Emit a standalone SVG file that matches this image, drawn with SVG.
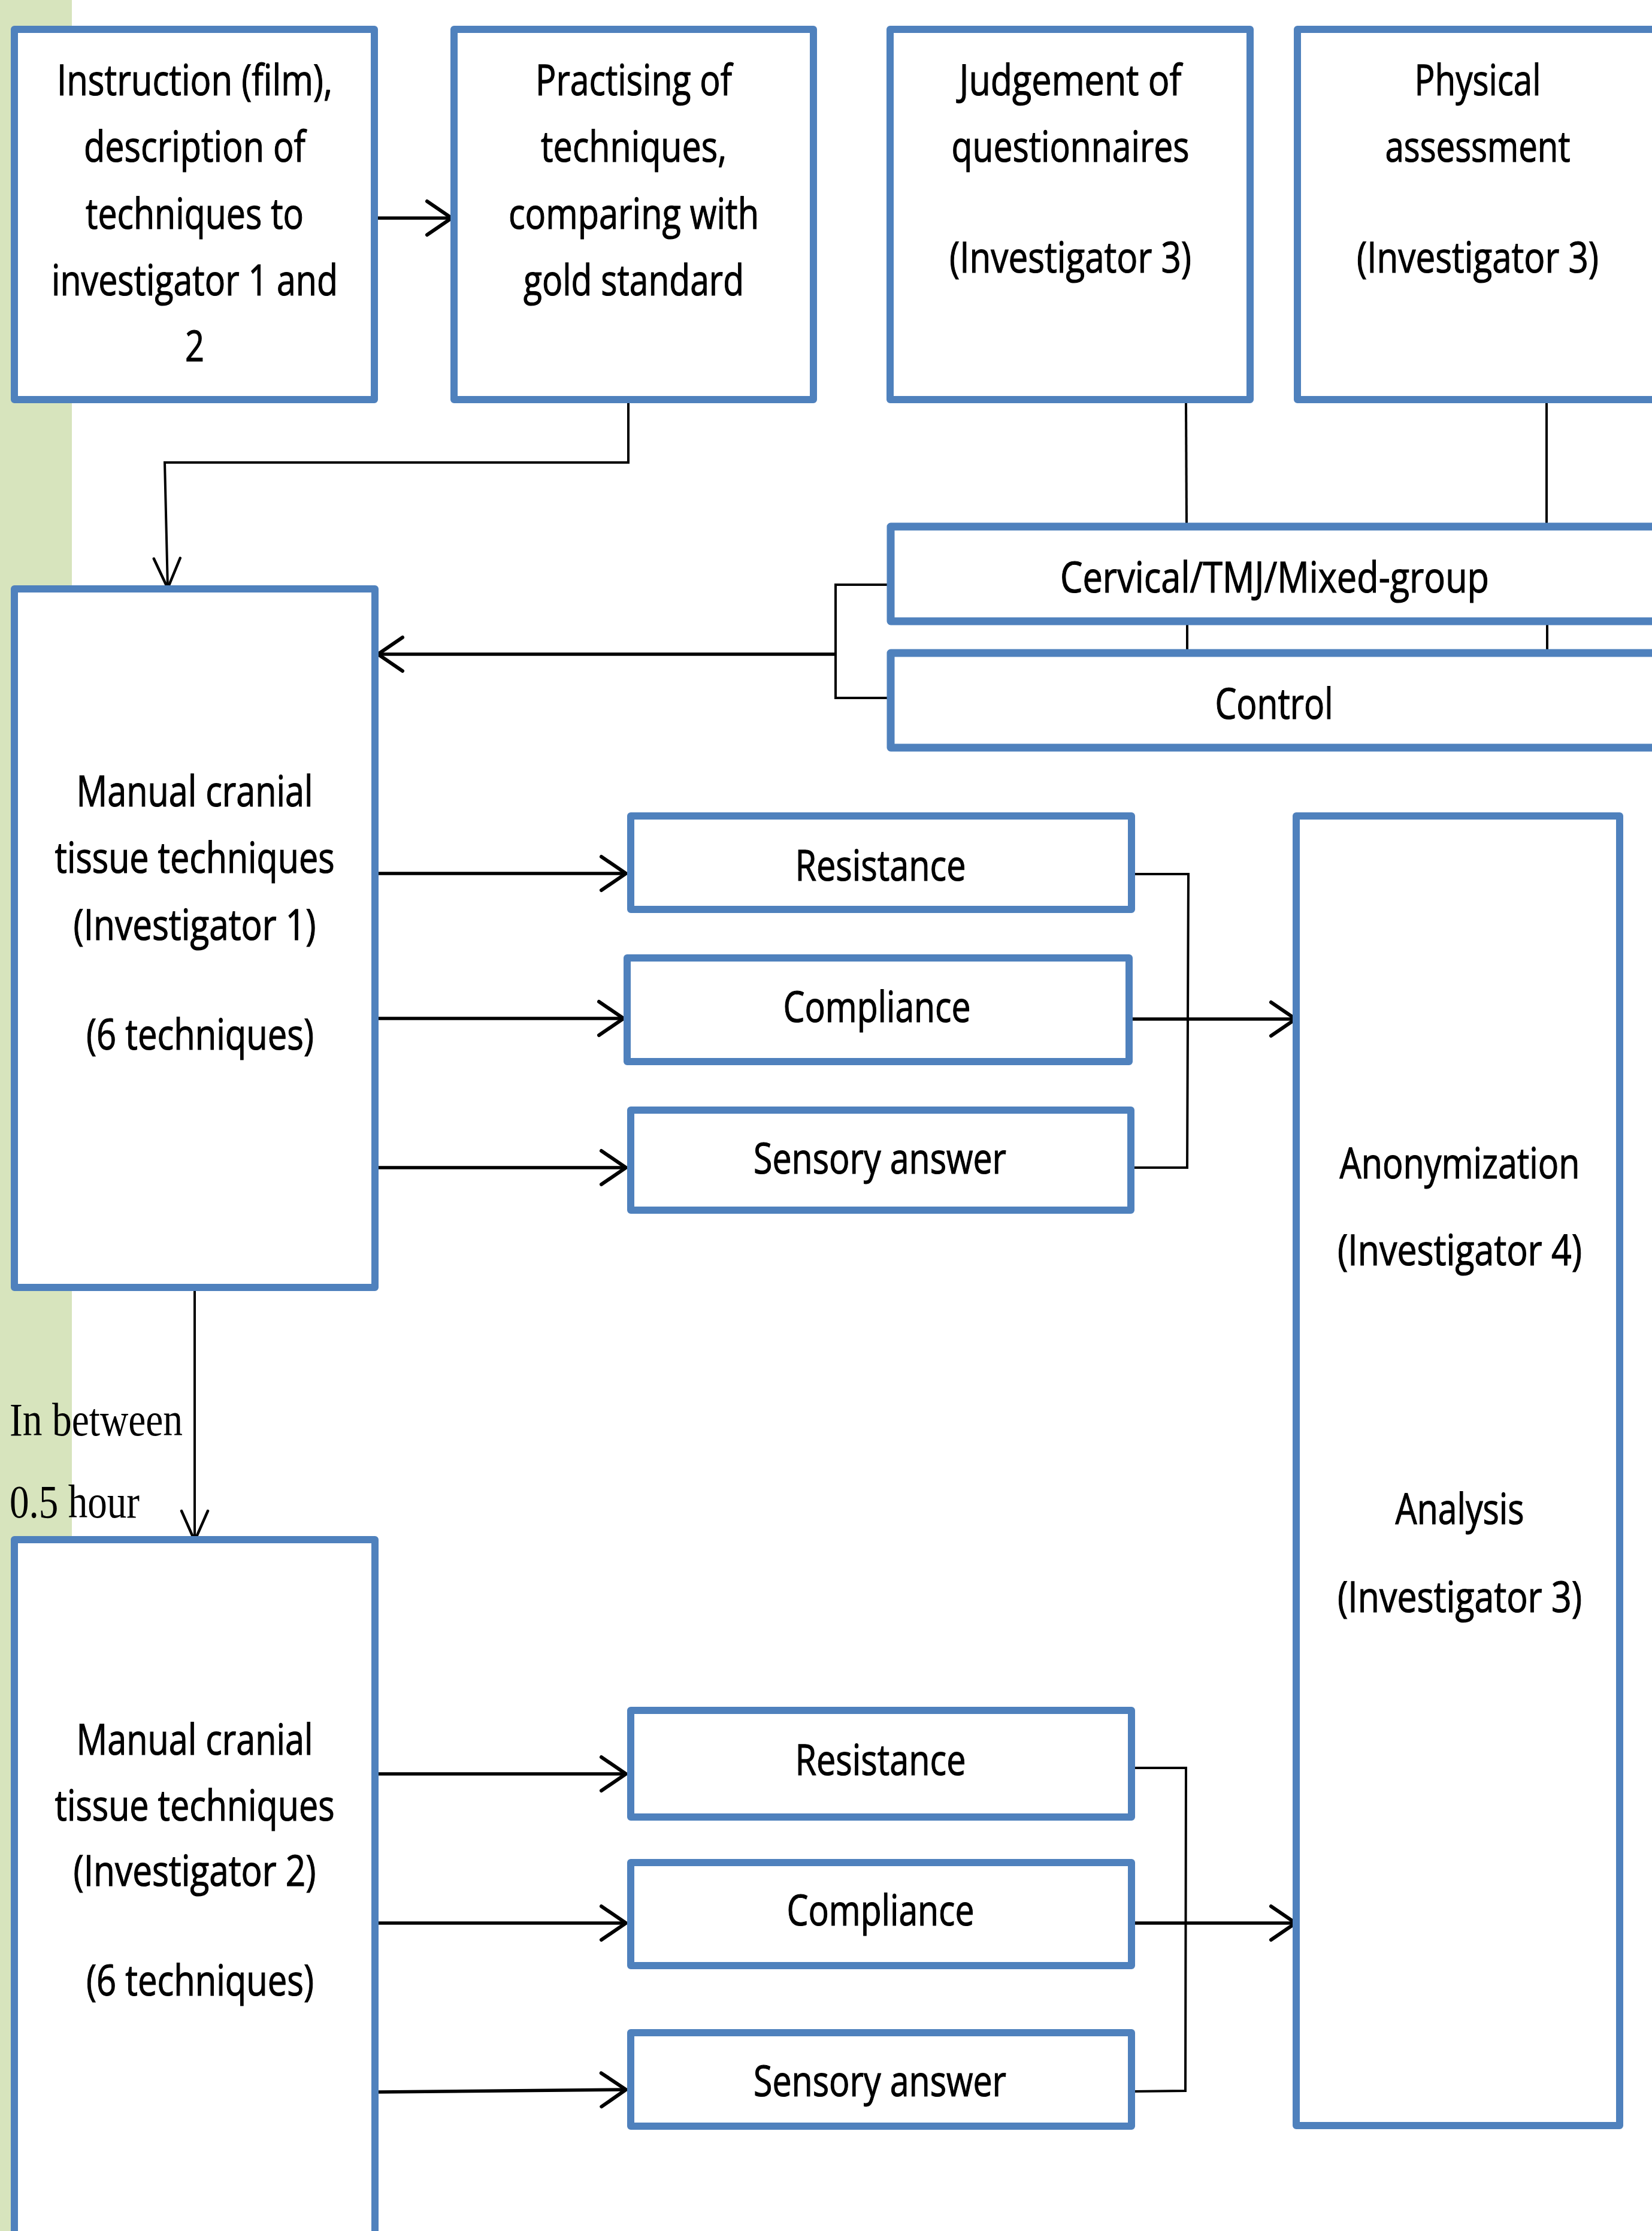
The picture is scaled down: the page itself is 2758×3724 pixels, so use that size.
<svg xmlns="http://www.w3.org/2000/svg" width="2758" height="3724" viewBox="0 0 2758 3724">
<style>
.box{fill:#fff;stroke:#4F81BD;stroke-width:12;stroke-linejoin:round}
.t{font-family:"Open Sans","Liberation Sans",sans-serif;font-size:72px;fill:#000;stroke:#000;stroke-width:1.2;text-anchor:middle}
.s{font-family:"Liberation Serif","Times New Roman",serif;font-size:79px;fill:#000}
.thick{fill:none;stroke:#000;stroke-width:5.5}
.thin{fill:none;stroke:#000;stroke-width:4}
</style>
<defs>
<marker id="arr" markerUnits="userSpaceOnUse" viewBox="-46 -34 52 68" markerWidth="52" markerHeight="68" refX="0" refY="0" orient="auto" overflow="visible">
<path d="M-41,-28 L0,0 L-41,28" fill="none" stroke="#000" stroke-width="6" stroke-linecap="round" stroke-linejoin="miter"/>
</marker>
<marker id="arrThin" markerUnits="userSpaceOnUse" viewBox="-56 -28 62 56" markerWidth="62" markerHeight="56" refX="0" refY="0" orient="auto" overflow="visible">
<path d="M-50,-22 L0,0 L-50,22" fill="none" stroke="#000" stroke-width="4.5" stroke-linecap="round"/>
</marker>
</defs>
<rect id="background" x="0" y="0" width="2758" height="3724" fill="#fff"/>
<rect id="greenbar" x="0" y="0" width="120" height="3724" fill="#D7E4BD"/>

<g id="connectors">
<line class="thick" x1="631" y1="364" x2="754" y2="364" marker-end="url(#arr)"/>
<polyline class="thin" points="1049,673 1049,772 275,772 280,982" marker-end="url(#arrThin)"/>
<line class="thin" x1="1980" y1="673" x2="1981" y2="873"/>
<line class="thin" x1="1982" y1="1043" x2="1982" y2="1084"/>
<line class="thin" x1="2582" y1="673" x2="2582" y2="873"/>
<line class="thin" x1="2583" y1="1043" x2="2583" y2="1084"/>
<polyline class="thin" points="1483,976 1395,976 1395,1165 1483,1165"/>
<line class="thick" x1="1395" y1="1092" x2="631" y2="1092" marker-end="url(#arr)"/>
<line class="thick" x1="632" y1="1458" x2="1045" y2="1458" marker-end="url(#arr)"/>
<line class="thick" x1="632" y1="1700" x2="1041" y2="1700" marker-end="url(#arr)"/>
<line class="thick" x1="632" y1="1949" x2="1045" y2="1949" marker-end="url(#arr)"/>
<polyline class="thin" points="1892,1459 1984,1459 1982,1949 1892,1949"/>
<line class="thick" x1="1891" y1="1701" x2="2163" y2="1701" marker-end="url(#arr)"/>
<line class="thin" x1="325" y1="2155" x2="325" y2="2572" marker-end="url(#arrThin)"/>
<line class="thick" x1="632" y1="2961" x2="1045" y2="2961" marker-end="url(#arr)"/>
<line class="thick" x1="632" y1="3210" x2="1045" y2="3210" marker-end="url(#arr)"/>
<line class="thick" x1="632" y1="3492" x2="1045" y2="3488" marker-end="url(#arr)"/>
<polyline class="thin" points="1892,2951 1980,2951 1979,3490 1892,3491"/>
<line class="thick" x1="1891" y1="3210" x2="2163" y2="3210" marker-end="url(#arr)"/>
</g>

<g id="instruction">
<rect class="box" x="24" y="49" width="601" height="618"/>
<text class="t" x="325" y="159" textLength="460" lengthAdjust="spacingAndGlyphs">Instruction (film),</text>
<text class="t" x="325" y="270" textLength="370" lengthAdjust="spacingAndGlyphs">description of</text>
<text class="t" x="325" y="382" textLength="364" lengthAdjust="spacingAndGlyphs">techniques to</text>
<text class="t" x="325" y="493" textLength="478" lengthAdjust="spacingAndGlyphs">investigator 1 and</text>
<text class="t" x="325" y="603" textLength="32" lengthAdjust="spacingAndGlyphs">2</text>
</g>

<g id="practising">
<rect class="box" x="758" y="49" width="600" height="618"/>
<text class="t" x="1058" y="159" textLength="328" lengthAdjust="spacingAndGlyphs">Practising of</text>
<text class="t" x="1058" y="270" textLength="310" lengthAdjust="spacingAndGlyphs">techniques,</text>
<text class="t" x="1058" y="382" textLength="418" lengthAdjust="spacingAndGlyphs">comparing with</text>
<text class="t" x="1058" y="493" textLength="368" lengthAdjust="spacingAndGlyphs">gold standard</text>
</g>

<g id="judgement">
<rect class="box" x="1486" y="49" width="601" height="618"/>
<text class="t" x="1787" y="159" textLength="371" lengthAdjust="spacingAndGlyphs">Judgement of</text>
<text class="t" x="1787" y="270" textLength="397" lengthAdjust="spacingAndGlyphs">questionnaires</text>
<text class="t" x="1787" y="455" textLength="404" lengthAdjust="spacingAndGlyphs">(Investigator 3)</text>
</g>

<g id="physical">
<rect class="box" x="2166" y="49" width="602" height="618"/>
<text class="t" x="2467" y="159" textLength="211" lengthAdjust="spacingAndGlyphs">Physical</text>
<text class="t" x="2467" y="270" textLength="309" lengthAdjust="spacingAndGlyphs">assessment</text>
<text class="t" x="2467" y="455" textLength="404" lengthAdjust="spacingAndGlyphs">(Investigator 3)</text>
</g>

<g id="cervical">
<rect class="box" x="1487" y="879" width="1278" height="158" style="stroke-width:13"/>
<text class="t" x="2128" y="989" textLength="716" lengthAdjust="spacingAndGlyphs">Cervical/TMJ/Mixed-group</text>
</g>

<g id="control">
<rect class="box" x="1487" y="1090" width="1278" height="158" style="stroke-width:13"/>
<text class="t" x="2127" y="1200" textLength="197" lengthAdjust="spacingAndGlyphs">Control</text>
</g>

<g id="manual1">
<rect class="box" x="24" y="983" width="602" height="1166"/>
<text class="t" x="325" y="1346" textLength="395" lengthAdjust="spacingAndGlyphs">Manual cranial</text>
<text class="t" x="325" y="1457" textLength="467" lengthAdjust="spacingAndGlyphs">tissue techniques</text>
<text class="t" x="325" y="1569" textLength="405" lengthAdjust="spacingAndGlyphs">(Investigator 1)</text>
<text class="t" x="334" y="1752" textLength="380" lengthAdjust="spacingAndGlyphs">(6 techniques)</text>
</g>

<g id="resistance1">
<rect class="box" x="1053" y="1362" width="836" height="156"/>
<text class="t" x="1470" y="1470" textLength="285" lengthAdjust="spacingAndGlyphs">Resistance</text>
</g>
<g id="compliance1">
<rect class="box" x="1047" y="1599" width="838" height="173"/>
<text class="t" x="1464" y="1706" textLength="313" lengthAdjust="spacingAndGlyphs">Compliance</text>
</g>
<g id="sensory1">
<rect class="box" x="1053" y="1853" width="835" height="167"/>
<text class="t" x="1469" y="1959" textLength="422" lengthAdjust="spacingAndGlyphs">Sensory answer</text>
</g>

<g id="anonymization">
<rect class="box" x="2164" y="1362" width="540" height="2186"/>
<text class="t" x="2437" y="1967" textLength="401" lengthAdjust="spacingAndGlyphs">Anonymization</text>
<text class="t" x="2437" y="2112" textLength="408" lengthAdjust="spacingAndGlyphs">(Investigator 4)</text>
<text class="t" x="2437" y="2544" textLength="215" lengthAdjust="spacingAndGlyphs">Analysis</text>
<text class="t" x="2437" y="2691" textLength="408" lengthAdjust="spacingAndGlyphs">(Investigator 3)</text>
</g>

<g id="inbetween">
<text class="s" x="16" y="2396" textLength="289" lengthAdjust="spacingAndGlyphs">In between</text>
<text class="s" x="16" y="2533" textLength="217" lengthAdjust="spacingAndGlyphs">0.5 hour</text>
</g>

<g id="manual2">
<rect class="box" x="24" y="2570" width="602" height="1200"/>
<text class="t" x="325" y="2929" textLength="395" lengthAdjust="spacingAndGlyphs">Manual cranial</text>
<text class="t" x="325" y="3039" textLength="467" lengthAdjust="spacingAndGlyphs">tissue techniques</text>
<text class="t" x="325" y="3148" textLength="405" lengthAdjust="spacingAndGlyphs">(Investigator 2)</text>
<text class="t" x="334" y="3331" textLength="380" lengthAdjust="spacingAndGlyphs">(6 techniques)</text>
</g>

<g id="resistance2">
<rect class="box" x="1053" y="2855" width="836" height="178"/>
<text class="t" x="1470" y="2963" textLength="285" lengthAdjust="spacingAndGlyphs">Resistance</text>
</g>
<g id="compliance2">
<rect class="box" x="1053" y="3109" width="836" height="172"/>
<text class="t" x="1470" y="3214" textLength="313" lengthAdjust="spacingAndGlyphs">Compliance</text>
</g>
<g id="sensory2">
<rect class="box" x="1053" y="3393" width="836" height="156"/>
<text class="t" x="1469" y="3499" textLength="422" lengthAdjust="spacingAndGlyphs">Sensory answer</text>
</g>
</svg>
